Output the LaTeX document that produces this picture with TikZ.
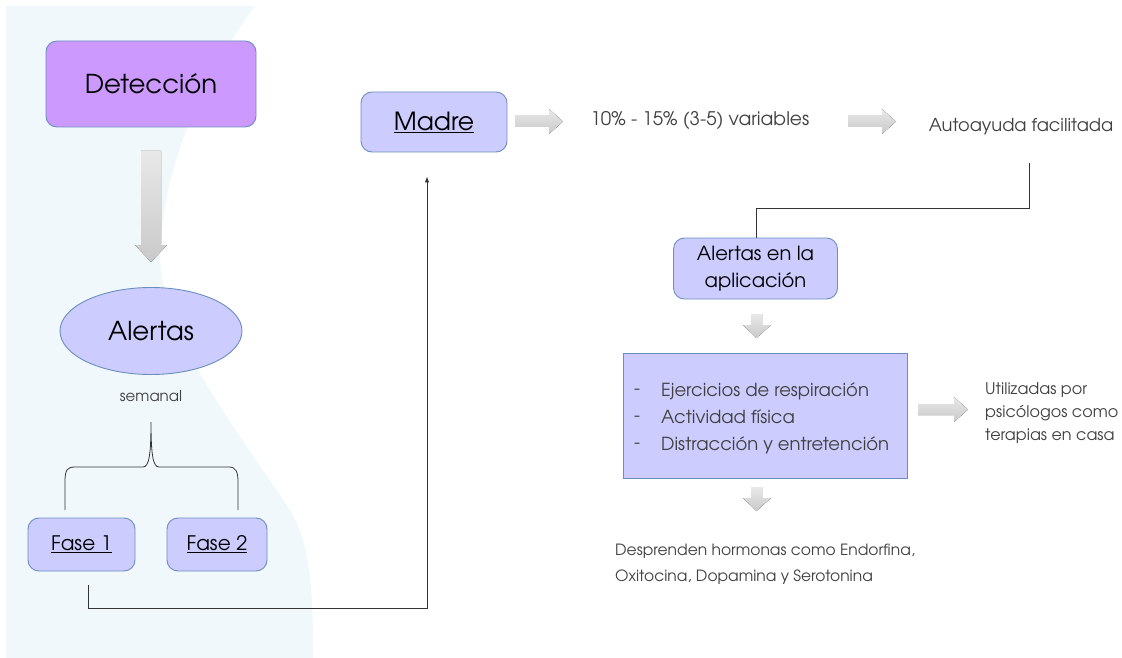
\documentclass[tikz,border=0pt]{standalone}
\usepackage{fontspec}
\setmainfont{TeX Gyre Adventor}
\usetikzlibrary{shapes.geometric,arrows.meta}

\definecolor{violeta}{HTML}{CC99FF}
\definecolor{lila}{HTML}{CCCCFF}
\definecolor{borde}{HTML}{6C8EBF}
\definecolor{fondo}{HTML}{F1F8FC}
\definecolor{texto}{HTML}{404040}

\begin{document}
\begin{tikzpicture}
[x=1pt,y=-1pt,
caja/.style={draw=borde,fill=lila,line width=0.9pt,rounded corners=11pt,align=center,inner sep=0pt},
flecha/.style={top color=gray!18,bottom color=gray!42,draw=none},
linea/.style={draw=black!80,line width=0.9pt},
gris/.style={text=texto,align=left,inner sep=0pt}]
\useasboundingbox (0,0) rectangle (1122,658);
\fill[fondo] (6,6) -- (255,6) .. controls (215,60) and (165,150) .. (160,250) .. controls (158,330) and (230,420) .. (290,510) .. controls (312,545) and (313,600) .. (313,658) -- (6,658) -- cycle;
% columna izquierda
\node[caja,fill=violeta,minimum width=210pt,minimum height=86pt,font=\fontsize{26}{30}\selectfont] (deteccion) at (151,84) {Detección};
\fill[flecha] (141,151) -- (161,151) -- (161,245) -- (167,245) -- (151,262) -- (135,245) -- (141,245) -- cycle;
\node[caja,ellipse,minimum width=182pt,minimum height=87pt,font=\fontsize{26}{30}\selectfont] (alertas) at (151,331) {Alertas};
\node[gris,font=\fontsize{15}{18}\selectfont] (semanal) at (151,396) {semanal};
\draw[linea,line width=0.8pt] (65,510) -- (65,482) .. controls (65,470) and (67,467) .. (75,467) -- (143,467) .. controls (149,467) and (151,455) .. (151,422) .. controls (151,455) and (153,467) .. (159,467) -- (229,467) .. controls (236,467) and (238,472) .. (238,482) -- (238,510);
\node[caja,minimum width=107pt,minimum height=53pt,font=\fontsize{20}{24}\selectfont] (fase1) at (81.5,544.5) {\underline{Fase 1}};
\node[caja,minimum width=100pt,minimum height=53pt,font=\fontsize{20}{24}\selectfont] (fase2) at (217,544.5) {\underline{Fase 2}};
% fila de arriba
\node[caja,minimum width=146pt,minimum height=60pt,font=\fontsize{25}{30}\selectfont] (madre) at (434,122) {\underline{Madre}};
\fill[flecha] (515,116) -- (549,116) -- (549,109) -- (563,121.5) -- (549,134) -- (549,127) -- (515,127) -- cycle;
\node[gris,font=\fontsize{18.7}{22}\selectfont] (variables) at (700,121) {10\% - 15\% (3-5) variables};
\fill[flecha] (848,116) -- (882,116) -- (882,109) -- (896,121.5) -- (882,134) -- (882,127) -- (848,127) -- cycle;
\node[gris,font=\fontsize{17.8}{21}\selectfont] (autoayuda) at (1021,127) {Autoayuda facilitada};
\coordinate (autosal) at (1029,163);
\draw[linea] (autosal) -- ++(0,45) -| (756,238);
% columna derecha
\node[caja,minimum width=164pt,minimum height=61pt,font=\fontsize{19.5}{27}\selectfont] (aplicacion) at (755.5,268.5) {Alertas en la\\aplicación};
\fill[flecha] (751,314) -- (762,314) -- (762,325) -- (771,325) -- (756.5,338) -- (743,325) -- (751,325) -- cycle;
\node[caja,rounded corners=0pt,minimum width=284pt,minimum height=125pt] (ejercicios) at (765,415.5) {};
\node[gris,font=\fontsize{18}{27}\selectfont,anchor=west] (guiones) at (634,418.5) {-\\-\\-};
\node[gris,font=\fontsize{18}{27}\selectfont,anchor=west] (lista) at (661,418.5) {Ejercicios de respiración\\Actividad física\\Distracción y entretención};
\fill[flecha] (918,404) -- (954,404) -- (954,397) -- (968,409.5) -- (954,422) -- (954,415) -- (918,415) -- cycle;
\node[gris,font=\fontsize{16}{23}\selectfont,anchor=west] (utilizadas) at (985,413) {Utilizadas por\\psicólogos como\\terapias en casa};
\fill[flecha] (751,487) -- (762,487) -- (762,498) -- (771,498) -- (756.5,511) -- (743,498) -- (751,498) -- cycle;
\node[gris,font=\fontsize{15.5}{26}\selectfont,anchor=west] (hormonas) at (615,564) {Desprenden hormonas como Endorfina,\\Oxitocina, Dopamina y Serotonina};
% conector de fase 1 a madre
\draw[linea,-{Latex[length=6pt,width=4.5pt]}] ([shift={(6.5,14)}]fase1.south) -- ++(0,23) -| ([shift={(-7,24)}]madre.south);
\end{tikzpicture}
\end{document}
